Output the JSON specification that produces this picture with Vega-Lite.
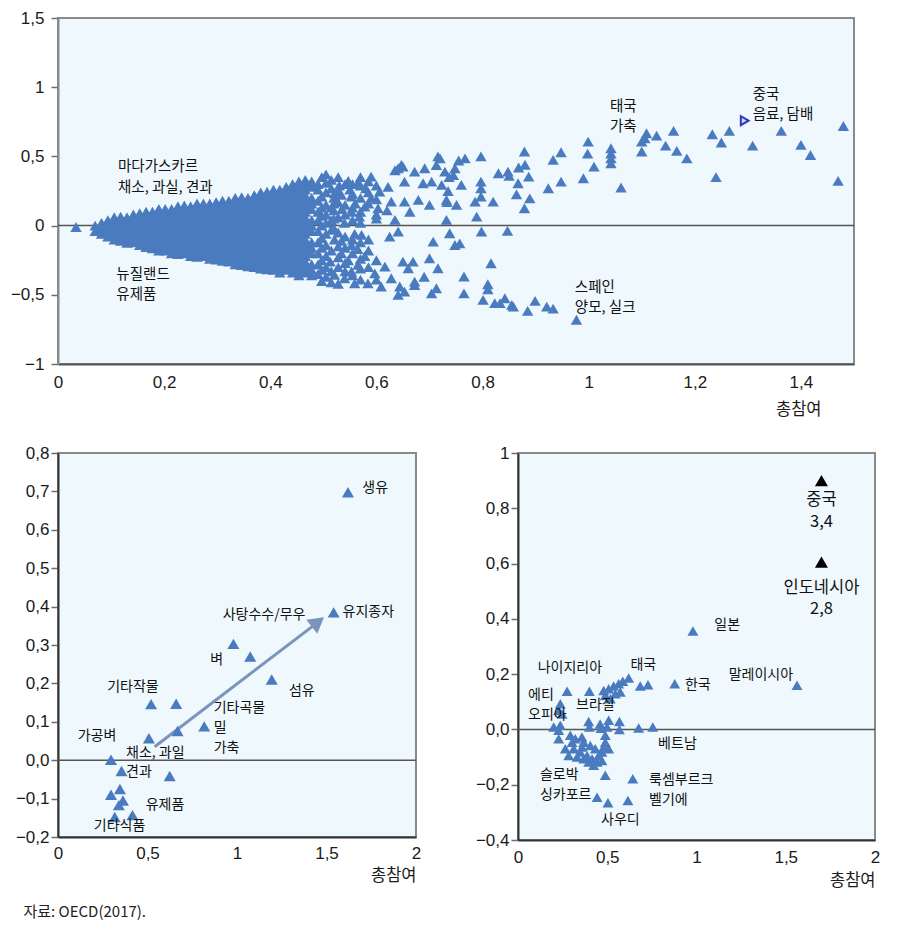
{
  "$schema": "https://vega.github.io/schema/vega-lite/v6.json",
  "padding": {"left": 9, "top": 8, "right": 5, "bottom": 5},
  "background": "white",
  "config": {
    "view": {"fill": "#eff9fd", "stroke": "#8a8a8a", "strokeWidth": 2},
    "font": "Noto Sans CJK KR",
    "axis": {"labelFont": "Liberation Sans", "labelFontSize": 17, "labelColor": "#1a1a1a", "grid": false, "domainColor": "#6e6e6e", "domainWidth": 2, "tickColor": "#6e6e6e", "tickWidth": 1.5, "titleFont": "Noto Sans CJK KR", "titleFontSize": 16.5, "titleFontWeight": "normal", "titleColor": "#1a1a1a", "labelFlush": false}
  },
  "title": {"text": "자료: OECD(2017).", "orient": "bottom", "anchor": "start", "fontSize": 15, "fontWeight": "normal", "font": "Noto Sans CJK KR", "color": "#222", "offset": 15, "dx": 14},
  "datasets": {
    "top": [
      {"x":0.034,"y":-0.01},
      {"x":0.07,"y":-0.04},{"x":0.07,"y":0},
      {"x":0.082,"y":-0.06},{"x":0.082,"y":-0.02},{"x":0.082,"y":0.02},
      {"x":0.094,"y":-0.08},{"x":0.094,"y":-0.04},{"x":0.094,"y":0},{"x":0.094,"y":0.04},
      {"x":0.106,"y":-0.1},{"x":0.106,"y":-0.06},{"x":0.106,"y":-0.02},{"x":0.106,"y":0.02},{"x":0.106,"y":0.06},
      {"x":0.118,"y":-0.11},{"x":0.118,"y":-0.08},{"x":0.118,"y":-0.04},{"x":0.118,"y":0},{"x":0.118,"y":0.04},{"x":0.118,"y":0.065},
      {"x":0.13,"y":-0.125},{"x":0.13,"y":-0.1},{"x":0.13,"y":-0.06},{"x":0.13,"y":-0.02},{"x":0.13,"y":0.02},{"x":0.13,"y":0.06},
      {"x":0.142,"y":-0.12},{"x":0.142,"y":-0.08},{"x":0.142,"y":-0.04},{"x":0.142,"y":0},{"x":0.142,"y":0.04},{"x":0.142,"y":0.08},
      {"x":0.154,"y":-0.14},{"x":0.154,"y":-0.1},{"x":0.154,"y":-0.06},{"x":0.154,"y":-0.02},{"x":0.154,"y":0.02},{"x":0.154,"y":0.06},{"x":0.154,"y":0.09},
      {"x":0.166,"y":-0.155},{"x":0.166,"y":-0.12},{"x":0.166,"y":-0.08},{"x":0.166,"y":-0.04},{"x":0.166,"y":0},{"x":0.166,"y":0.04},{"x":0.166,"y":0.08},{"x":0.166,"y":0.1},
      {"x":0.178,"y":-0.165},{"x":0.178,"y":-0.14},{"x":0.178,"y":-0.1},{"x":0.178,"y":-0.06},{"x":0.178,"y":-0.02},{"x":0.178,"y":0.02},{"x":0.178,"y":0.06},{"x":0.178,"y":0.1},
      {"x":0.19,"y":-0.18},{"x":0.19,"y":-0.16},{"x":0.19,"y":-0.12},{"x":0.19,"y":-0.08},{"x":0.19,"y":-0.04},{"x":0.19,"y":0},{"x":0.19,"y":0.04},{"x":0.19,"y":0.08},{"x":0.19,"y":0.12},
      {"x":0.202,"y":-0.18},{"x":0.202,"y":-0.14},{"x":0.202,"y":-0.1},{"x":0.202,"y":-0.06},{"x":0.202,"y":-0.02},{"x":0.202,"y":0.02},{"x":0.202,"y":0.06},{"x":0.202,"y":0.1},{"x":0.202,"y":0.12},
      {"x":0.214,"y":-0.2},{"x":0.214,"y":-0.16},{"x":0.214,"y":-0.12},{"x":0.214,"y":-0.08},{"x":0.214,"y":-0.04},{"x":0.214,"y":0},{"x":0.214,"y":0.04},{"x":0.214,"y":0.08},{"x":0.214,"y":0.12},
      {"x":0.226,"y":-0.205},{"x":0.226,"y":-0.18},{"x":0.226,"y":-0.14},{"x":0.226,"y":-0.1},{"x":0.226,"y":-0.06},{"x":0.226,"y":-0.02},{"x":0.226,"y":0.02},{"x":0.226,"y":0.06},{"x":0.226,"y":0.1},{"x":0.226,"y":0.14},
      {"x":0.238,"y":-0.2},{"x":0.238,"y":-0.16},{"x":0.238,"y":-0.12},{"x":0.238,"y":-0.08},{"x":0.238,"y":-0.04},{"x":0.238,"y":0},{"x":0.238,"y":0.04},{"x":0.238,"y":0.08},{"x":0.238,"y":0.12},{"x":0.238,"y":0.145},
      {"x":0.25,"y":-0.22},{"x":0.25,"y":-0.18},{"x":0.25,"y":-0.14},{"x":0.25,"y":-0.1},{"x":0.25,"y":-0.06},{"x":0.25,"y":-0.02},{"x":0.25,"y":0.02},{"x":0.25,"y":0.06},{"x":0.25,"y":0.1},{"x":0.25,"y":0.14},
      {"x":0.262,"y":-0.225},{"x":0.262,"y":-0.2},{"x":0.262,"y":-0.16},{"x":0.262,"y":-0.12},{"x":0.262,"y":-0.08},{"x":0.262,"y":-0.04},{"x":0.262,"y":0},{"x":0.262,"y":0.04},{"x":0.262,"y":0.08},{"x":0.262,"y":0.12},{"x":0.262,"y":0.16},
      {"x":0.274,"y":-0.22},{"x":0.274,"y":-0.18},{"x":0.274,"y":-0.14},{"x":0.274,"y":-0.1},{"x":0.274,"y":-0.06},{"x":0.274,"y":-0.02},{"x":0.274,"y":0.02},{"x":0.274,"y":0.06},{"x":0.274,"y":0.1},{"x":0.274,"y":0.14},{"x":0.274,"y":0.16},
      {"x":0.286,"y":-0.24},{"x":0.286,"y":-0.2},{"x":0.286,"y":-0.16},{"x":0.286,"y":-0.12},{"x":0.286,"y":-0.08},{"x":0.286,"y":-0.04},{"x":0.286,"y":0},{"x":0.286,"y":0.04},{"x":0.286,"y":0.08},{"x":0.286,"y":0.12},{"x":0.286,"y":0.16},
      {"x":0.298,"y":-0.245},{"x":0.298,"y":-0.22},{"x":0.298,"y":-0.18},{"x":0.298,"y":-0.14},{"x":0.298,"y":-0.1},{"x":0.298,"y":-0.06},{"x":0.298,"y":-0.02},{"x":0.298,"y":0.02},{"x":0.298,"y":0.06},{"x":0.298,"y":0.1},{"x":0.298,"y":0.14},{"x":0.298,"y":0.17},
      {"x":0.31,"y":-0.255},{"x":0.31,"y":-0.24},{"x":0.31,"y":-0.2},{"x":0.31,"y":-0.16},{"x":0.31,"y":-0.12},{"x":0.31,"y":-0.08},{"x":0.31,"y":-0.04},{"x":0.31,"y":0},{"x":0.31,"y":0.04},{"x":0.31,"y":0.08},{"x":0.31,"y":0.12},{"x":0.31,"y":0.16},{"x":0.31,"y":0.18},
      {"x":0.322,"y":-0.26},{"x":0.322,"y":-0.22},{"x":0.322,"y":-0.18},{"x":0.322,"y":-0.14},{"x":0.322,"y":-0.1},{"x":0.322,"y":-0.06},{"x":0.322,"y":-0.02},{"x":0.322,"y":0.02},{"x":0.322,"y":0.06},{"x":0.322,"y":0.1},{"x":0.322,"y":0.14},{"x":0.322,"y":0.18},
      {"x":0.334,"y":-0.28},{"x":0.334,"y":-0.24},{"x":0.334,"y":-0.2},{"x":0.334,"y":-0.16},{"x":0.334,"y":-0.12},{"x":0.334,"y":-0.08},{"x":0.334,"y":-0.04},{"x":0.334,"y":0},{"x":0.334,"y":0.04},{"x":0.334,"y":0.08},{"x":0.334,"y":0.12},{"x":0.334,"y":0.16},{"x":0.334,"y":0.2},
      {"x":0.346,"y":-0.285},{"x":0.346,"y":-0.26},{"x":0.346,"y":-0.22},{"x":0.346,"y":-0.18},{"x":0.346,"y":-0.14},{"x":0.346,"y":-0.1},{"x":0.346,"y":-0.06},{"x":0.346,"y":-0.02},{"x":0.346,"y":0.02},{"x":0.346,"y":0.06},{"x":0.346,"y":0.1},{"x":0.346,"y":0.14},{"x":0.346,"y":0.18},{"x":0.346,"y":0.205},
      {"x":0.358,"y":-0.295},{"x":0.358,"y":-0.28},{"x":0.358,"y":-0.24},{"x":0.358,"y":-0.2},{"x":0.358,"y":-0.16},{"x":0.358,"y":-0.12},{"x":0.358,"y":-0.08},{"x":0.358,"y":-0.04},{"x":0.358,"y":0},{"x":0.358,"y":0.04},{"x":0.358,"y":0.08},{"x":0.358,"y":0.12},{"x":0.358,"y":0.16},{"x":0.358,"y":0.2},
      {"x":0.37,"y":-0.3},{"x":0.37,"y":-0.26},{"x":0.37,"y":-0.22},{"x":0.37,"y":-0.18},{"x":0.37,"y":-0.14},{"x":0.37,"y":-0.1},{"x":0.37,"y":-0.06},{"x":0.37,"y":-0.02},{"x":0.37,"y":0.02},{"x":0.37,"y":0.06},{"x":0.37,"y":0.1},{"x":0.37,"y":0.14},{"x":0.37,"y":0.18},{"x":0.37,"y":0.22},
      {"x":0.382,"y":-0.31},{"x":0.382,"y":-0.28},{"x":0.382,"y":-0.24},{"x":0.382,"y":-0.2},{"x":0.382,"y":-0.16},{"x":0.382,"y":-0.12},{"x":0.382,"y":-0.08},{"x":0.382,"y":-0.04},{"x":0.382,"y":0},{"x":0.382,"y":0.04},{"x":0.382,"y":0.08},{"x":0.382,"y":0.12},{"x":0.382,"y":0.16},{"x":0.382,"y":0.2},{"x":0.382,"y":0.24},
      {"x":0.394,"y":-0.315},{"x":0.394,"y":-0.3},{"x":0.394,"y":-0.26},{"x":0.394,"y":-0.22},{"x":0.394,"y":-0.18},{"x":0.394,"y":-0.14},{"x":0.394,"y":-0.1},{"x":0.394,"y":-0.06},{"x":0.394,"y":-0.02},{"x":0.394,"y":0.02},{"x":0.394,"y":0.06},{"x":0.394,"y":0.1},{"x":0.394,"y":0.14},{"x":0.394,"y":0.18},{"x":0.394,"y":0.22},{"x":0.394,"y":0.245},
      {"x":0.406,"y":-0.32},{"x":0.406,"y":-0.28},{"x":0.406,"y":-0.24},{"x":0.406,"y":-0.2},{"x":0.406,"y":-0.16},{"x":0.406,"y":-0.12},{"x":0.406,"y":-0.08},{"x":0.406,"y":-0.04},{"x":0.406,"y":0},{"x":0.406,"y":0.04},{"x":0.406,"y":0.08},{"x":0.406,"y":0.12},{"x":0.406,"y":0.16},{"x":0.406,"y":0.2},{"x":0.406,"y":0.24},{"x":0.406,"y":0.26},
      {"x":0.418,"y":-0.34},{"x":0.418,"y":-0.3},{"x":0.418,"y":-0.26},{"x":0.418,"y":-0.22},{"x":0.418,"y":-0.18},{"x":0.418,"y":-0.14},{"x":0.418,"y":-0.1},{"x":0.418,"y":-0.06},{"x":0.418,"y":-0.02},{"x":0.418,"y":0.02},{"x":0.418,"y":0.06},{"x":0.418,"y":0.1},{"x":0.418,"y":0.14},{"x":0.418,"y":0.18},{"x":0.418,"y":0.22},{"x":0.418,"y":0.26},
      {"x":0.43,"y":-0.32},{"x":0.43,"y":-0.28},{"x":0.43,"y":-0.24},{"x":0.43,"y":-0.2},{"x":0.43,"y":-0.16},{"x":0.43,"y":-0.12},{"x":0.43,"y":-0.08},{"x":0.43,"y":-0.04},{"x":0.43,"y":0},{"x":0.43,"y":0.04},{"x":0.43,"y":0.08},{"x":0.43,"y":0.12},{"x":0.43,"y":0.16},{"x":0.43,"y":0.2},{"x":0.43,"y":0.24},{"x":0.43,"y":0.28},
      {"x":0.442,"y":-0.34},{"x":0.442,"y":-0.3},{"x":0.442,"y":-0.26},{"x":0.442,"y":-0.22},{"x":0.442,"y":-0.18},{"x":0.442,"y":-0.14},{"x":0.442,"y":-0.1},{"x":0.442,"y":-0.06},{"x":0.442,"y":-0.02},{"x":0.442,"y":0.02},{"x":0.442,"y":0.06},{"x":0.442,"y":0.1},{"x":0.442,"y":0.14},{"x":0.442,"y":0.18},{"x":0.442,"y":0.22},{"x":0.442,"y":0.26},{"x":0.442,"y":0.3},
      {"x":0.454,"y":-0.36},{"x":0.454,"y":-0.32},{"x":0.454,"y":-0.28},{"x":0.454,"y":-0.24},{"x":0.454,"y":-0.2},{"x":0.454,"y":-0.16},{"x":0.454,"y":-0.12},{"x":0.454,"y":-0.08},{"x":0.454,"y":-0.04},{"x":0.454,"y":0},{"x":0.454,"y":0.04},{"x":0.454,"y":0.08},{"x":0.454,"y":0.12},{"x":0.454,"y":0.16},{"x":0.454,"y":0.2},{"x":0.454,"y":0.24},{"x":0.454,"y":0.28},{"x":0.454,"y":0.32},
      {"x":0.466,"y":-0.34},{"x":0.466,"y":-0.3},{"x":0.466,"y":-0.26},{"x":0.466,"y":-0.22},{"x":0.466,"y":-0.18},{"x":0.466,"y":-0.14},{"x":0.466,"y":-0.1},{"x":0.466,"y":-0.06},{"x":0.466,"y":-0.02},{"x":0.466,"y":0.02},{"x":0.466,"y":0.06},{"x":0.466,"y":0.1},{"x":0.466,"y":0.14},{"x":0.466,"y":0.18},{"x":0.466,"y":0.22},{"x":0.466,"y":0.26},{"x":0.466,"y":0.3},{"x":0.466,"y":0.33},
      {"x":0.478,"y":-0.36},{"x":0.478,"y":-0.32},{"x":0.478,"y":-0.28},{"x":0.478,"y":-0.2},{"x":0.478,"y":-0.16},{"x":0.478,"y":-0.12},{"x":0.478,"y":-0.04},{"x":0.478,"y":0},{"x":0.478,"y":0.04},{"x":0.478,"y":0.12},{"x":0.478,"y":0.16},{"x":0.478,"y":0.2},{"x":0.478,"y":0.28},{"x":0.478,"y":0.32},
      {"x":0.49,"y":-0.35},{"x":0.49,"y":-0.28},{"x":0.49,"y":-0.2},{"x":0.49,"y":-0.12},{"x":0.49,"y":-0.04},{"x":0.49,"y":0.04},{"x":0.49,"y":0.1},{"x":0.49,"y":0.18},{"x":0.49,"y":0.26},{"x":0.49,"y":0.3},
      {"x":0.497,"y":-0.4},{"x":0.497,"y":-0.32},{"x":0.497,"y":-0.25},{"x":0.497,"y":-0.16},{"x":0.497,"y":-0.09},{"x":0.497,"y":0},{"x":0.497,"y":0.07},{"x":0.497,"y":0.13},{"x":0.497,"y":0.21},{"x":0.497,"y":0.35},
      {"x":0.505,"y":-0.37},{"x":0.505,"y":-0.3},{"x":0.505,"y":-0.22},{"x":0.505,"y":-0.14},{"x":0.505,"y":-0.06},{"x":0.505,"y":0.02},{"x":0.505,"y":0.08},{"x":0.505,"y":0.15},{"x":0.505,"y":0.24},{"x":0.505,"y":0.31},{"x":0.505,"y":0.37},
      {"x":0.515,"y":-0.41},{"x":0.515,"y":-0.33},{"x":0.515,"y":-0.18},{"x":0.515,"y":-0.03},{"x":0.515,"y":0.04},{"x":0.515,"y":0.13},{"x":0.515,"y":0.27},{"x":0.515,"y":0.33},
      {"x":0.528,"y":-0.42},{"x":0.528,"y":-0.3},{"x":0.528,"y":-0.23},{"x":0.528,"y":-0.15},{"x":0.528,"y":-0.05},{"x":0.528,"y":0.06},{"x":0.528,"y":0.17},{"x":0.528,"y":0.25},{"x":0.528,"y":0.35},
      {"x":0.541,"y":-0.33},{"x":0.541,"y":-0.27},{"x":0.541,"y":-0.16},{"x":0.541,"y":-0.08},{"x":0.541,"y":0.08},{"x":0.541,"y":0.15},{"x":0.541,"y":0.3},
      {"x":0.555,"y":-0.36},{"x":0.555,"y":-0.2},{"x":0.555,"y":-0.1},{"x":0.555,"y":0.04},{"x":0.555,"y":0.13},{"x":0.555,"y":0.23},{"x":0.555,"y":0.3},
      {"x":0.57,"y":-0.39},{"x":0.57,"y":-0.31},{"x":0.57,"y":-0.24},{"x":0.57,"y":-0.12},{"x":0.57,"y":0.02},{"x":0.57,"y":0.1},{"x":0.57,"y":0.2},{"x":0.57,"y":0.29},{"x":0.57,"y":0.35},
      {"x":0.585,"y":-0.3},{"x":0.585,"y":-0.18},{"x":0.585,"y":-0.1},{"x":0.585,"y":0.16},{"x":0.585,"y":0.24},{"x":0.585,"y":0.32},
      {"x":0.6,"y":-0.39},{"x":0.6,"y":-0.25},{"x":0.6,"y":0.08},{"x":0.6,"y":0.19},{"x":0.6,"y":0.29},
      {"x":0.547,"y":0.323},{"x":0.565,"y":0.306},{"x":0.59,"y":0.354},{"x":0.622,"y":0.28},{"x":0.606,"y":0.246},{"x":0.641,"y":0.414},{"x":0.65,"y":0.426},{"x":0.635,"y":0.4},{"x":0.653,"y":0.318},{"x":0.672,"y":0.39},{"x":0.691,"y":0.414},{"x":0.713,"y":0.438},{"x":0.72,"y":0.486},{"x":0.729,"y":0.39},{"x":0.688,"y":0.306},{"x":0.704,"y":0.318},{"x":0.723,"y":0.294},{"x":0.735,"y":0.25},{"x":0.679,"y":0.186},{"x":0.7,"y":0.15},{"x":0.733,"y":0.17},{"x":0.653,"y":0.173},{"x":0.663,"y":0.1},{"x":0.628,"y":0.173},{"x":0.635,"y":0.041},{"x":0.603,"y":0.125},{"x":0.578,"y":0.137},{"x":0.553,"y":0.21},{"x":0.534,"y":0.222},{"x":0.521,"y":0.233},{"x":0.568,"y":0.065},{"x":0.553,"y":0.1},
      {"x":0.647,"y":0.438},{"x":0.716,"y":0.5},{"x":0.737,"y":0.35},{"x":0.755,"y":0.47},{"x":0.748,"y":0.414},{"x":0.745,"y":0.366},{"x":0.76,"y":0.294},{"x":0.732,"y":0.186},{"x":0.751,"y":0.15},{"x":0.732,"y":0.041},
      {"x":0.52,"y":0.16},{"x":0.535,"y":0.12},{"x":0.52,"y":0.05},{"x":0.54,"y":0.02},{"x":0.56,"y":0.16},{"x":0.58,"y":0.27},{"x":0.59,"y":0.2},{"x":0.53,"y":0.29},{"x":0.55,"y":0.26},{"x":0.6,"y":0.05},{"x":0.62,"y":0.11},{"x":0.52,"y":0.2},{"x":0.52,"y":0.11},{"x":0.52,"y":-0.02},
      {"x":0.625,"y":-0.08},{"x":0.641,"y":-0.043},{"x":0.707,"y":-0.116},{"x":0.7,"y":-0.236},{"x":0.716,"y":-0.308},{"x":0.65,"y":-0.26},{"x":0.669,"y":-0.26},{"x":0.66,"y":-0.308},{"x":0.616,"y":-0.296},{"x":0.597,"y":-0.345},{"x":0.628,"y":-0.38},{"x":0.609,"y":-0.44},{"x":0.644,"y":-0.44},{"x":0.653,"y":-0.477},{"x":0.672,"y":-0.43},{"x":0.704,"y":-0.49},{"x":0.713,"y":-0.453},{"x":0.565,"y":-0.284},{"x":0.584,"y":-0.417},{"x":0.553,"y":-0.332},{"x":0.521,"y":-0.356},{"x":0.54,"y":-0.38},{"x":0.559,"y":-0.417},{"x":0.513,"y":-0.26},{"x":0.572,"y":-0.067},{"x":0.534,"y":-0.2},{"x":0.547,"y":-0.25},{"x":0.565,"y":-0.17},{"x":0.578,"y":-0.22},{"x":0.521,"y":-0.1},{"x":0.534,"y":-0.11},{"x":0.553,"y":-0.14},{"x":0.559,"y":-0.06},
      {"x":0.641,"y":-0.5},{"x":0.672,"y":-0.405},{"x":0.69,"y":-0.37},{"x":0.748,"y":-0.14},{"x":0.738,"y":-0.055},{"x":0.757,"y":-0.128},
      {"x":0.767,"y":0.486},{"x":0.797,"y":0.5},{"x":0.879,"y":0.535},{"x":0.88,"y":0.44},{"x":0.868,"y":0.42},{"x":0.887,"y":0.354},{"x":0.867,"y":0.306},{"x":0.864,"y":0.226},{"x":0.889,"y":0.197},{"x":0.879,"y":0.125},{"x":0.848,"y":0.39},{"x":0.83,"y":0.378},{"x":0.85,"y":0.36},{"x":0.797,"y":0.318},{"x":0.797,"y":0.27},{"x":0.797,"y":0.21},{"x":0.786,"y":0.173},{"x":0.82,"y":0.173},{"x":0.789,"y":0.065},{"x":0.798,"y":-0.043},{"x":0.847,"y":-0.038},
      {"x":0.816,"y":-0.272},{"x":0.765,"y":-0.368},{"x":0.81,"y":-0.424},{"x":0.81,"y":-0.46},{"x":0.765,"y":-0.49},{"x":0.801,"y":-0.537},{"x":0.823,"y":-0.56},{"x":0.833,"y":-0.56},{"x":0.842,"y":-0.525},{"x":0.855,"y":-0.573},{"x":0.858,"y":-0.585},{"x":0.885,"y":-0.616},{"x":0.899,"y":-0.544},{"x":0.921,"y":-0.585},{"x":0.933,"y":-0.6},{"x":0.977,"y":-0.68},
      {"x":0.924,"y":0.27},{"x":0.933,"y":0.475},{"x":0.948,"y":0.53},{"x":0.948,"y":0.318},{"x":0.99,"y":0.342},{"x":0.999,"y":0.607},{"x":0.998,"y":0.52},{"x":1.01,"y":0.426},{"x":1.042,"y":0.559},{"x":1.042,"y":0.52},{"x":1.042,"y":0.486},{"x":1.042,"y":0.45},{"x":1.061,"y":0.275},{"x":1.1,"y":0.535},{"x":1.1,"y":0.607},{"x":1.106,"y":0.63},{"x":1.109,"y":0.667},{"x":1.128,"y":0.65},{"x":1.145,"y":0.578},{"x":1.16,"y":0.684},{"x":1.166,"y":0.54},{"x":1.185,"y":0.486},{"x":1.233,"y":0.66},{"x":1.25,"y":0.6},{"x":1.265,"y":0.684},{"x":1.24,"y":0.35},{"x":1.309,"y":0.578},{"x":1.363,"y":0.684},{"x":1.4,"y":0.583},{"x":1.418,"y":0.51},{"x":1.47,"y":0.323},{"x":1.48,"y":0.72}
    ],
    "topLabels": [
      {"x":0.113,"y":0.42,"label":"마다가스카르"},{"x":0.113,"y":0.275,"label":"채소, 과실, 견과"},
      {"x":0.11,"y":-0.354,"label":"뉴질랜드"},{"x":0.11,"y":-0.5,"label":"유제품"},
      {"x":1.04,"y":0.86,"label":"태국"},{"x":1.04,"y":0.715,"label":"가축"},
      {"x":1.309,"y":0.947,"label":"중국"},{"x":1.309,"y":0.8,"label":"음료, 담배"},
      {"x":0.974,"y":-0.45,"label":"스페인"},{"x":0.974,"y":-0.595,"label":"양모, 실크"}
    ],
    "bl": [
      {"x":1.62,"y":0.698},{"x":1.54,"y":0.385},{"x":0.98,"y":0.303},{"x":1.074,"y":0.27},{"x":1.194,"y":0.21},{"x":0.52,"y":0.146},{"x":0.66,"y":0.147},{"x":0.817,"y":0.088},{"x":0.668,"y":0.076},{"x":0.508,"y":0.057},{"x":0.296,"y":0.001},{"x":0.355,"y":-0.028},{"x":0.624,"y":-0.041},{"x":0.346,"y":-0.075},{"x":0.296,"y":-0.09},{"x":0.363,"y":-0.105},{"x":0.34,"y":-0.117},{"x":0.317,"y":-0.148},{"x":0.416,"y":-0.143}
    ],
    "blLabels": [
      {"x":1.7,"y":0.71,"label":"생유"},{"x":1.59,"y":0.385,"label":"유지종자"},{"x":0.92,"y":0.378,"label":"사탕수수/무우"},{"x":0.85,"y":0.26,"label":"벼"},{"x":1.29,"y":0.18,"label":"섬유"},{"x":0.275,"y":0.19,"label":"기타작물"},{"x":0.87,"y":0.135,"label":"기타곡물"},{"x":0.87,"y":0.084,"label":"밀"},{"x":0.87,"y":0.032,"label":"가축"},{"x":0.11,"y":0.062,"label":"가공벼"},{"x":0.38,"y":0.018,"label":"채소, 과일"},{"x":0.38,"y":-0.031,"label":"견과"},{"x":0.49,"y":-0.117,"label":"유제품"},{"x":0.2,"y":-0.172,"label":"기타식품"}
    ],
    "br": [
      {"x":0.98,"y":0.356},{"x":1.563,"y":0.16},{"x":0.878,"y":0.165},{"x":0.728,"y":0.162},{"x":0.685,"y":0.157},{"x":0.62,"y":0.186},{"x":0.587,"y":0.174},{"x":0.564,"y":0.165},{"x":0.536,"y":0.157},{"x":0.508,"y":0.147},{"x":0.48,"y":0.141},{"x":0.545,"y":0.129},{"x":0.573,"y":0.135},{"x":0.489,"y":0.123},{"x":0.517,"y":0.111},{"x":0.275,"y":0.138},{"x":0.4,"y":0.138},{"x":0.237,"y":0.093},{"x":0.228,"y":0.068},{"x":0.247,"y":0.056},{"x":0.2,"y":0.009},{"x":0.237,"y":0.015},{"x":0.228,"y":-0.003},{"x":0.396,"y":0.029},{"x":0.4,"y":0.009},{"x":0.46,"y":0.02},{"x":0.465,"y":0.004},{"x":0.508,"y":0.033},{"x":0.499,"y":0.009},{"x":0.568,"y":0.029},{"x":0.568,"y":0.0},{"x":0.676,"y":0.005},{"x":0.755,"y":0.009},
      {"x":0.228,"y":-0.034},{"x":0.293,"y":-0.021},{"x":0.303,"y":-0.046},{"x":0.321,"y":-0.034},{"x":0.358,"y":-0.027},{"x":0.368,"y":-0.046},{"x":0.312,"y":-0.07},{"x":0.349,"y":-0.082},{"x":0.284,"y":-0.094},{"x":0.331,"y":-0.1},{"x":0.368,"y":-0.106},{"x":0.396,"y":-0.118},{"x":0.424,"y":-0.13},{"x":0.452,"y":-0.094},{"x":0.47,"y":-0.082},{"x":0.48,"y":-0.064},{"x":0.489,"y":-0.046},{"x":0.508,"y":-0.07},{"x":0.47,"y":-0.112},{"x":0.443,"y":-0.118},{"x":0.415,"y":-0.106},{"x":0.387,"y":-0.094},{"x":0.359,"y":-0.064},{"x":0.405,"y":-0.058},{"x":0.433,"y":-0.07},{"x":0.489,"y":-0.021},{"x":0.265,"y":-0.07},
      {"x":0.489,"y":-0.166},{"x":0.643,"y":-0.178},{"x":0.443,"y":-0.245},{"x":0.504,"y":-0.265},{"x":0.616,"y":-0.257}
    ],
    "brLabels": [
      {"x":1.1,"y":0.377,"label":"일본"},{"x":1.18,"y":0.197,"label":"말레이시아"},{"x":0.935,"y":0.16,"label":"한국"},{"x":0.63,"y":0.233,"label":"태국"},{"x":0.11,"y":0.222,"label":"나이지리아"},{"x":0.056,"y":0.124,"label":"에티"},{"x":0.056,"y":0.052,"label":"오피아"},{"x":0.325,"y":0.088,"label":"브라질"},{"x":0.785,"y":-0.053,"label":"베트남"},{"x":0.123,"y":-0.165,"label":"슬로박"},{"x":0.123,"y":-0.237,"label":"싱카포르"},{"x":0.734,"y":-0.183,"label":"룩셈부르크"},{"x":0.734,"y":-0.255,"label":"벨기에"},{"x":0.465,"y":-0.327,"label":"사우디"}
    ],
    "brBig": [
      {"x":1.7,"y":0.83,"label":"중국"},{"x":1.7,"y":0.75,"label":"3,4"},{"x":1.7,"y":0.51,"label":"인도네시아"},{"x":1.7,"y":0.435,"label":"2,8"}
    ]
  },
  "spacing": 24,
  "vconcat": [
    {
      "width": 796,
      "height": 346,
      "encoding": {
        "x": {"field": "x", "type": "quantitative", "scale": {"domain": [0, 1.5], "nice": false, "zero": false},
          "axis": {"values": [0, 0.2, 0.4, 0.6, 0.8, 1, 1.2, 1.4], "labelExpr": "replace(format(datum.value,'~g'),'.',',')", "ticks": false, "tickSize": 0, "labelPadding": 10, "title": "총참여", "titleX": 763, "titleAlign": "right", "titlePadding": 11, "domainColor": "#555"}},
        "y": {"field": "y", "type": "quantitative", "scale": {"domain": [-1, 1.5], "nice": false, "zero": false},
          "axis": {"values": [-1, -0.5, 0, 0.5, 1, 1.5], "labelExpr": "replace(format(datum.value,'~g'),'.',',')", "tickSize": 7, "labelPadding": 7, "title": null, "domainColor": "#8a8a8a"}}
      },
      "layer": [
        {"data": {"values": [{"x": 0, "x2": 1.5, "y": 0}]}, "mark": {"type": "rule", "color": "#555", "strokeWidth": 1.5}, "encoding": {"x2": {"field": "x2"}}},
        {"data": {"name": "top"}, "mark": {"type": "point", "shape": "triangle-up", "filled": true, "size": 130, "color": "#4a7bbf", "opacity": 1}},
        {"data": {"values": [{"x": 1.294, "y": 0.758}]}, "mark": {"type": "point", "shape": "triangle-right", "filled": true, "size": 80, "fill": "#d8dcf5", "stroke": "#3038c0", "strokeWidth": 2, "opacity": 1}},
        {"data": {"name": "topLabels"}, "mark": {"type": "text", "align": "left", "baseline": "middle", "fontSize": 14.5, "color": "#111", "font": "Noto Sans CJK KR"}, "encoding": {"text": {"field": "label"}}}
      ]
    },
    {
      "spacing": 52,
      "hconcat": [
        {
          "width": 358,
          "height": 384,
          "encoding": {
            "x": {"field": "x", "type": "quantitative", "scale": {"domain": [0, 2], "nice": false, "zero": false},
              "axis": {"values": [0, 0.5, 1, 1.5, 2], "labelExpr": "replace(format(datum.value,'~g'),'.',',')", "ticks": false, "tickSize": 0, "labelPadding": 8, "title": "총참여", "titleAnchor": "end", "titlePadding": 6, "domainColor": "#333"}},
            "y": {"field": "y", "type": "quantitative", "scale": {"domain": [-0.2, 0.8], "nice": false, "zero": false},
              "axis": {"values": [-0.2, -0.1, 0, 0.1, 0.2, 0.3, 0.4, 0.5, 0.6, 0.7, 0.8], "labelExpr": "replace(format(datum.value,'.1f'),'.',',')", "tickSize": 7, "labelPadding": 2, "title": null, "domainColor": "#333"}}
          },
          "layer": [
            {"data": {"values": [{"x": 0, "x2": 2, "y": 0}]}, "mark": {"type": "rule", "color": "#555", "strokeWidth": 1.5}, "encoding": {"x2": {"field": "x2"}}},
            {"data": {"values": [{"x": 0.54, "y": 0.035}, {"x": 1.44, "y": 0.355}]}, "mark": {"type": "line", "color": "#7b93bd", "strokeWidth": 3}},
            {"data": {"values": [{"x": 1.452, "y": 0.36}]}, "mark": {"type": "point", "shape": "triangle-up", "filled": true, "size": 320, "angle": 52, "color": "#7b93bd", "opacity": 1}},
            {"data": {"name": "bl"}, "mark": {"type": "point", "shape": "triangle-up", "filled": true, "size": 145, "color": "#4a7bbf", "opacity": 1}},
            {"data": {"name": "blLabels"}, "mark": {"type": "text", "align": "left", "baseline": "middle", "fontSize": 14, "color": "#111", "font": "Noto Sans CJK KR"}, "encoding": {"text": {"field": "label"}}}
          ]
        },
        {
          "width": 357,
          "height": 387,
          "encoding": {
            "x": {"field": "x", "type": "quantitative", "scale": {"domain": [0, 2], "nice": false, "zero": false},
              "axis": {"values": [0, 0.5, 1, 1.5, 2], "labelExpr": "replace(format(datum.value,'~g'),'.',',')", "ticks": false, "tickSize": 0, "labelPadding": 9, "title": "총참여", "titleAnchor": "end", "titlePadding": 7, "domainColor": "#333"}},
            "y": {"field": "y", "type": "quantitative", "scale": {"domain": [-0.4, 1], "nice": false, "zero": false},
              "axis": {"values": [-0.4, -0.2, 0, 0.2, 0.4, 0.6, 0.8, 1], "labelExpr": "datum.value == 1 ? '1' : replace(format(datum.value,'.1f'),'.',',')", "tickSize": 7, "labelPadding": 2, "title": null, "domainColor": "#333"}}
          },
          "layer": [
            {"data": {"values": [{"x": 0, "x2": 2, "y": 0}]}, "mark": {"type": "rule", "color": "#555", "strokeWidth": 1.5}, "encoding": {"x2": {"field": "x2"}}},
            {"data": {"name": "br"}, "mark": {"type": "point", "shape": "triangle-up", "filled": true, "size": 120, "color": "#4a7bbf", "opacity": 1}},
            {"data": {"values": [{"x": 1.7, "y": 0.9}, {"x": 1.7, "y": 0.605}]}, "mark": {"type": "point", "shape": "triangle-up", "filled": true, "size": 170, "color": "#000", "opacity": 1}},
            {"data": {"name": "brLabels"}, "mark": {"type": "text", "align": "left", "baseline": "middle", "fontSize": 14, "color": "#111", "font": "Noto Sans CJK KR"}, "encoding": {"text": {"field": "label"}}},
            {"data": {"name": "brBig"}, "mark": {"type": "text", "align": "center", "baseline": "middle", "fontSize": 16.5, "color": "#111", "font": "Noto Sans CJK KR"}, "encoding": {"text": {"field": "label"}}}
          ]
        }
      ]
    }
  ]
}
